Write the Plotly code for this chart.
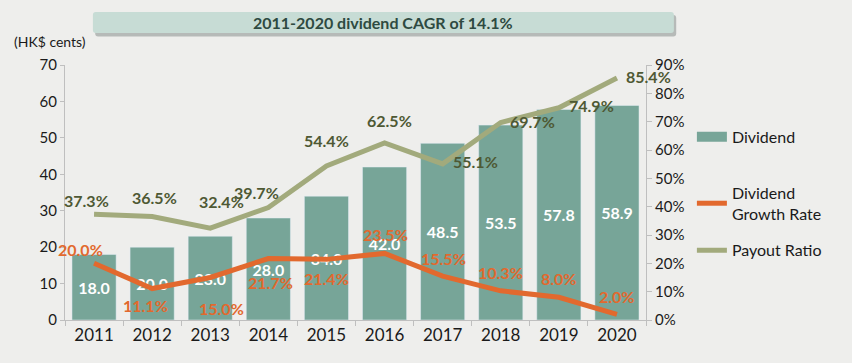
import plotly.graph_objects as go

years = ["2011", "2012", "2013", "2014", "2015", "2016", "2017", "2018", "2019", "2020"]
dividend = [18.0, 20.0, 23.0, 28.0, 34.0, 42.0, 48.5, 53.5, 57.8, 58.9]
growth_rate = [20.0, 11.1, 15.0, 21.7, 21.4, 23.5, 15.5, 10.3, 8.0, 2.0]
payout_ratio = [37.3, 36.5, 32.4, 39.7, 54.4, 62.5, 55.1, 69.7, 74.9, 85.4]

left_ticks = [0, 10, 20, 30, 40, 50, 60, 70]
right_ticks = [0, 10, 20, 30, 40, 50, 60, 70, 80, 90]

# label offsets (pixels) for line labels
payout_dx = [-8, 2, 11, -12, 0, 5, 33, 32, 33, 32]
payout_dy = [14, 19, 27, 15, 25, 22, 2, 1, 2, 2]
growth_dx = [-14, -7, 11, 2, 0, 1, 1, 0, 0, 0]
growth_dy = [14, -17, -31, -24, -19, 19, 18, 18, 19, 18]

BAR = "#77A598"
ORANGE = "#E2692E"
OLIVE = "#A2AA7C"
OLIVE_TXT = "#4E5934"
BG = "#EEEEEC"
FONT = "Lato, 'Open Sans', sans-serif"

fig = go.Figure()
fig.add_trace(go.Bar(
    x=years, y=dividend, name="Dividend", marker_color=BAR,
    text=[f"{v:.1f}" for v in dividend], textposition="inside",
    insidetextanchor="middle",
    textfont=dict(color="white", size=16, family=FONT, weight="bold"),
    showlegend=False, yaxis="y",
))
# legend-only entry drawn as a wide swatch like the reference
fig.add_trace(go.Scatter(
    x=[None], y=[None], name="Dividend", mode="lines",
    line=dict(color=BAR, width=10), legend="legend", hoverinfo="skip",
))
fig.add_trace(go.Scatter(
    x=years, y=growth_rate, name="Dividend<br>Growth Rate", mode="lines",
    line=dict(color=ORANGE, width=5), yaxis="y2", legend="legend2",
))
fig.add_trace(go.Scatter(
    x=years, y=payout_ratio, name="Payout Ratio", mode="lines",
    line=dict(color=OLIVE, width=5), yaxis="y2", legend="legend3",
))

annotations = []
for i, yr in enumerate(years):
    # category axis: annotation x given as category index
    annotations.append(dict(
        x=i, y=payout_ratio[i], xref="x", yref="y2",
        text=f"{payout_ratio[i]:.1f}%", showarrow=False,
        xshift=payout_dx[i], yshift=payout_dy[i],
        font=dict(color=OLIVE_TXT, size=16, family=FONT, weight="bold"),
    ))
    annotations.append(dict(
        x=i, y=growth_rate[i], xref="x", yref="y2",
        text=f"{growth_rate[i]:.1f}%", showarrow=False,
        xshift=growth_dx[i], yshift=growth_dy[i],
        font=dict(color=ORANGE, size=16, family=FONT, weight="bold"),
    ))

annotations.append(dict(
    x=0.548, y=1.166, xref="paper", yref="paper", showarrow=False,
    xanchor="center", yanchor="middle",
    text="<b>2011-2020 dividend CAGR of 14.1%</b>",
    font=dict(color="#2E4A41", size=16, family=FONT),
))
annotations.append(dict(
    x=-0.026, y=1.094, xref="paper", yref="paper", showarrow=False,
    xanchor="center", yanchor="middle",
    text="(HK$ cents)", font=dict(color="#1a1a1a", size=14, family=FONT),
))


def rounded_path(x0, x1, y0, y1, rx=0.005, ry=0.012):
    return (f"M {x0+rx},{y0} L {x1-rx},{y0} Q {x1},{y0} {x1},{y0+ry} "
            f"L {x1},{y1-ry} Q {x1},{y1} {x1-rx},{y1} L {x0+rx},{y1} "
            f"Q {x0},{y1} {x0},{y1-ry} L {x0},{y0+ry} Q {x0},{y0} {x0+rx},{y0} Z")


shapes = [
    dict(type="path", xref="paper", yref="paper",
         path=rounded_path(0.052, 1.052, 1.112, 1.196),
         fillcolor="#B6BAB8", line_width=0, layer="below"),
    dict(type="path", xref="paper", yref="paper",
         path=rounded_path(0.048, 1.048, 1.1255, 1.2078),
         fillcolor="#C7DCD5", line_width=0, layer="below"),
]

legend_common = dict(xanchor="left", yanchor="top", bgcolor="rgba(0,0,0,0)",
                     font=dict(size=16, family=FONT, color="#1a1a1a"), itemwidth=30)

fig.update_layout(
    width=852, height=363,
    margin=dict(l=65, r=206, t=65, b=43),
    paper_bgcolor=BG, plot_bgcolor="rgba(0,0,0,0)",
    font=dict(family=FONT, size=15, color="#1a1a1a"),
    bargap=0.24,
    showlegend=True,
    legend=dict(x=1.079, y=0.785, **legend_common),
    legend2=dict(x=1.079, y=0.565, **legend_common),
    legend3=dict(x=1.079, y=0.34, **legend_common),
    xaxis=dict(type="category", range=[-0.5, 9.5], showgrid=False, showline=True,
               linecolor="#BFBFBF", linewidth=1, ticks="outside", tickson="boundaries",
               ticklen=5, tickcolor="#BFBFBF", tickfont=dict(size=17)),
    yaxis=dict(range=[0, 70], tickvals=left_ticks, showgrid=False, showline=True,
               linecolor="#BFBFBF", ticks="outside", ticklen=4, tickcolor="#BFBFBF",
               zeroline=False, tickfont=dict(size=15)),
    yaxis2=dict(range=[0, 90], tickvals=right_ticks,
                ticktext=[f"{v}%" for v in right_ticks], overlaying="y", side="right",
                showgrid=False, showline=True, linecolor="#BFBFBF", ticks="outside",
                ticklen=5, tickcolor="#BFBFBF", zeroline=False, tickfont=dict(size=15)),
    annotations=annotations, shapes=shapes,
)

fig.write_html(
    "out.html",
    config={"displayModeBar": False},
    post_script=f"document.body.style.margin='0';document.body.style.background='{BG}';",
)
